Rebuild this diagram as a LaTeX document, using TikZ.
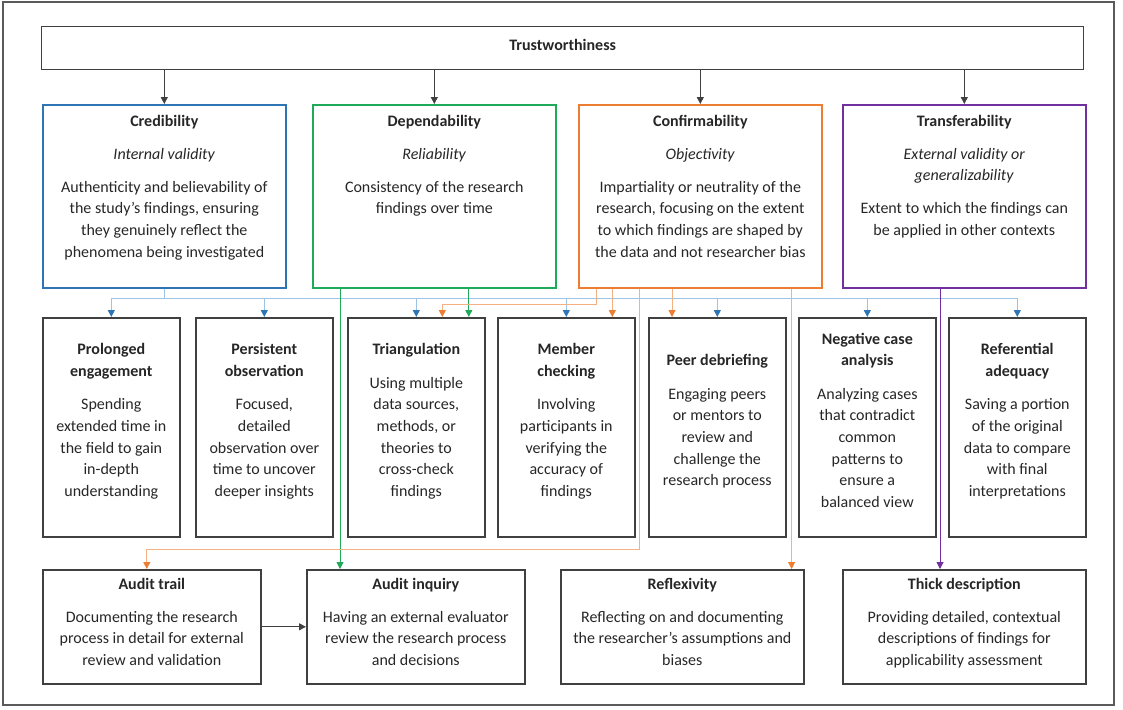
\documentclass[tikz,border=0pt]{standalone}
\usepackage{fontspec}
\setmainfont{Carlito}
\usetikzlibrary{arrows.meta,calc}

\definecolor{ink}{HTML}{262626}
\definecolor{edge}{HTML}{404040}
\definecolor{framegray}{HTML}{5A5A5A}
\definecolor{cblue}{HTML}{2E75B6}
\definecolor{cbluelt}{HTML}{9DC3E6}
\definecolor{cgreen}{HTML}{1FAA59}
\definecolor{corange}{HTML}{ED7D31}
\definecolor{corangelt}{HTML}{F4B183}
\definecolor{cpurple}{HTML}{7030A0}

\tikzset{
  box/.style={draw=edge, line width=1.6pt, inner sep=0pt, anchor=north west},
  topbox/.style={box, minimum width=243, minimum height=183},
  midbox/.style={box, minimum width=137, minimum height=219},
  lowbox/.style={box, minimum height=114},
  txt/.style={align=center, inner sep=0pt, text=ink,
              font=\fontsize{16}{21.7}\selectfont},
  tip/.style={-{Triangle[width=7pt,length=7pt]}},
  blackarrow/.style={tip, draw=edge, line width=0.9pt},
  bluewire/.style={draw=cbluelt, line width=1pt},
  bluearrow/.style={bluewire, -{Triangle[width=7pt,length=7pt,color=cblue]}},
  orangearrow/.style={draw=corangelt, line width=1pt,
                      -{Triangle[width=7pt,length=7pt,color=corange]}},
  greenarrow/.style={draw=cgreen, line width=0.9pt,
                     -{Triangle[width=7pt,length=7pt,color=cgreen]}},
  purplearrow/.style={draw=cpurple, line width=0.9pt,
                      -{Triangle[width=7pt,length=7pt,color=cpurple]}},
}

\begin{document}
\begin{tikzpicture}[x=1pt, y=-1pt]
\useasboundingbox (0,0) rectangle (1123,709);
\draw[framegray, line width=1.5pt] (3,2) rectangle (1114,705);

% ---- root ----
\node[box, line width=1.3pt, minimum width=1042, minimum height=43] (trust) at (41,26) {};
\node[txt, font=\fontsize{16}{21.7}\selectfont\bfseries] (trustT) at ($(trust.center)+(0,-3.5)$) {Trustworthiness};

% ---- four criteria ----
\node[topbox, draw=cblue]   (cred)  at (42,104)  {};
\node[topbox, draw=cgreen]  (dep)   at (312,104) {};
\node[topbox, draw=corange] (conf)  at (578,104) {};
\node[topbox, draw=cpurple] (trans) at (842,104) {};

\node[txt, anchor=north] (credT) at ($(cred.north)+(0,6.8)$) {\strut\textbf{Credibility}\\[11.3pt]
  \textit{Internal validity}\\[11.3pt]
  Authenticity and believability of\\
  the study’s findings, ensuring\\
  they genuinely reflect the\\
  phenomena being investigated};
\node[txt, anchor=north] (depT) at ($(dep.north)+(0,6.8)$) {\strut\textbf{Dependability}\\[11.3pt]
  \textit{Reliability}\\[11.3pt]
  Consistency of the research\\
  findings over time};
\node[txt, anchor=north] (confT) at ($(conf.north)+(0,6.8)$) {\strut\textbf{Confirmability}\\[11.3pt]
  \textit{Objectivity}\\[11.3pt]
  Impartiality or neutrality of the\\
  research, focusing on the extent\\
  to which findings are shaped by\\
  the data and not researcher bias};
\node[txt, anchor=north] (transT) at ($(trans.north)+(0,6.8)$) {\strut\textbf{Transferability}\\[11.3pt]
  \textit{External validity or}\\
  \textit{generalizability}\\[11.3pt]
  Extent to which the findings can\\
  be applied in other contexts};

% ---- strategies ----
\node[midbox] (prol) at (42,317)  {};
\node[midbox] (pers) at (195,317) {};
\node[midbox] (tri)  at (347,317) {};
\node[midbox] (mem)  at (497,317) {};
\node[midbox] (peer) at (648,317) {};
\node[midbox] (neg)  at (798,317) {};
\node[midbox] (ref)  at (948,317) {};

\node[txt] (prolT) at ($(prol.center)+(0,-5.8)$) {\strut\textbf{Prolonged}\\
  \textbf{engagement}\\[11.5pt]
  Spending\\ extended time in\\ the field to gain\\ in-depth\\ understanding\strut};
\node[txt] (persT) at ($(pers.center)+(0,-5.8)$) {\strut\textbf{Persistent}\\
  \textbf{observation}\\[11.5pt]
  Focused,\\ detailed\\ observation over\\ time to uncover\\ deeper insights\strut};
\node[txt] (triT) at ($(tri.center)+(0,-5.8)$) {\strut\textbf{Triangulation}\\[11.5pt]
  Using multiple\\ data sources,\\ methods, or\\ theories to\\ cross-check\\ findings\strut};
\node[txt] (memT) at ($(mem.center)+(0,-5.8)$) {\strut\textbf{Member}\\
  \textbf{checking}\\[11.5pt]
  Involving\\ participants in\\ verifying the\\ accuracy of\\ findings\strut};
\node[txt] (peerT) at ($(peer.center)+(0,-5.8)$) {\strut\textbf{Peer debriefing}\\[11.5pt]
  Engaging peers\\ or mentors to\\ review and\\ challenge the\\ research process\strut};
\node[txt] (negT) at ($(neg.center)+(0,-5.8)$) {\strut\textbf{Negative case}\\
  \textbf{analysis}\\[11.5pt]
  Analyzing cases\\ that contradict\\ common\\ patterns to\\ ensure a\\ balanced view\strut};
\node[txt] (refT) at ($(ref.center)+(0,-5.8)$) {\strut\textbf{Referential}\\
  \textbf{adequacy}\\[11.5pt]
  Saving a portion\\ of the original\\ data to compare\\ with final\\ interpretations\strut};

% ---- procedures ----
\node[lowbox, minimum width=218] (trail) at (42,569)  {};
\node[lowbox, minimum width=218] (inq)   at (306,569) {};
\node[lowbox, minimum width=243] (refl)  at (560,569) {};
\node[lowbox, minimum width=243] (thick) at (842,569) {};

\node[txt, anchor=north] (trailT) at ($(trail.north)+(0,4.8)$) {\strut\textbf{Audit trail}\\[11.3pt]
  Documenting the research\\ process in detail for external\\ review and validation};
\node[txt, anchor=north] (inqT) at ($(inq.north)+(0,4.8)$) {\strut\textbf{Audit inquiry}\\[11.3pt]
  Having an external evaluator\\ review the research process\\ and decisions};
\node[txt, anchor=north] (reflT) at ($(refl.north)+(0,4.8)$) {\strut\textbf{Reflexivity}\\[11.3pt]
  Reflecting on and documenting\\ the researcher’s assumptions and\\ biases};
\node[txt, anchor=north] (thickT) at ($(thick.north)+(0,4.8)$) {\strut\textbf{Thick description}\\[11.3pt]
  Providing detailed, contextual\\ descriptions of findings for\\ applicability assessment};

% ---- root to criteria ----
\foreach \n in {cred,dep,conf,trans}
  \draw[blackarrow] (\n.north |- trust.south) -- (\n.north);

% ---- levels of the connector buses ----
\coordinate (bus)    at (0,298);
\coordinate (orbus)  at (0,304);
\coordinate (lowbus) at (0,549);

% ---- credibility: to every strategy ----
\draw[bluewire] (cred.south) -- (cred.south |- bus);
\draw[bluewire] (prol.north |- bus) -- (ref.north |- bus);
\foreach \n in {prol,pers,tri,mem,peer,neg,ref}
  \draw[bluearrow] (\n.north |- bus) -- (\n.north);

% ---- dependability ----
\coordinate (gA) at ($(tri.north)+(52.5,0)$);
\coordinate (gB) at ($(inq.north west)+(34,0)$);
\draw[greenarrow] (gA |- dep.south) -- (gA);
\draw[greenarrow] (gB |- dep.south) -- (gB);

% ---- confirmability ----
\coordinate (oS) at ($(conf.south west)+(18,0)$);
\coordinate (oA) at ($(tri.north)+(26,0)$);
\coordinate (oB) at ($(mem.north)+(46,0)$);
\coordinate (oC) at ($(peer.north west)+(24,0)$);
\coordinate (oD) at ($(conf.south west)+(61,0)$);
\coordinate (oE) at ($(trail.north)+(-5,0)$);
\coordinate (oF) at ($(refl.north east)+(-13,0)$);
\draw[orangearrow] (oS) |- (oA |- orbus) -- (oA);
\draw[orangearrow] (oB |- conf.south) -- (oB);
\draw[orangearrow] (oC |- conf.south) -- (oC);
\draw[orangearrow] (oD) |- (oE |- lowbus) -- (oE);
\draw[orangearrow] (oF |- conf.south) -- (oF);

% ---- transferability ----
\coordinate (pA) at ($(thick.north west)+(98,0)$);
\draw[purplearrow] (pA |- trans.south) -- (pA);

% ---- audit trail feeds audit inquiry ----
\draw[blackarrow] (trail.east) -- (inq.west);
\end{tikzpicture}
\end{document}
